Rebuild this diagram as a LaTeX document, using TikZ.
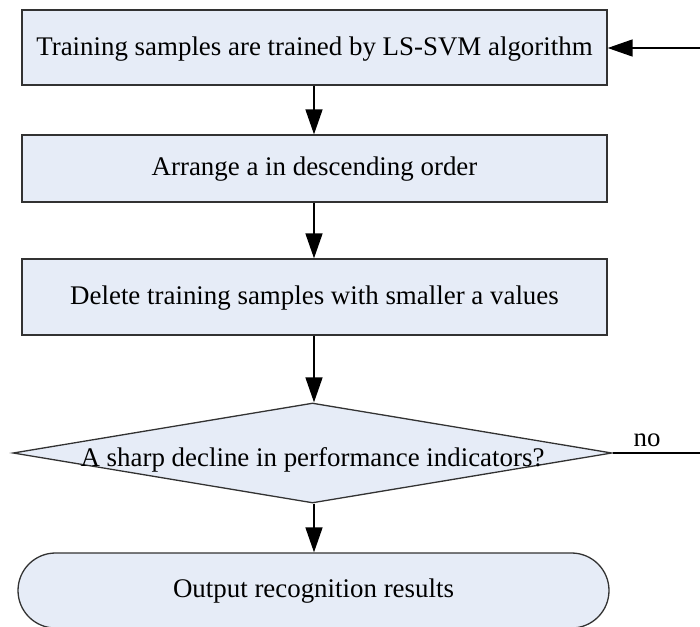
\documentclass[tikz,border=0pt]{standalone}
\usepackage{fontspec}
\setmainfont{Liberation Serif}
\usetikzlibrary{shapes.geometric,shapes.misc,arrows.meta}
\definecolor{boxfill}{RGB}{230,236,247}
\definecolor{boxline}{RGB}{50,50,50}
\begin{document}
\begin{tikzpicture}[x=1pt,y=-1pt,
  procbox/.style={draw=boxline,fill=boxfill,line width=1.3pt,minimum width=585pt,inner sep=0pt},
  txt/.style={font=\fontsize{26.9}{30}\selectfont,inner sep=0pt},
  flow/.style={line width=1.5pt,-{Triangle[length=25pt,width=17pt]}},
  plainline/.style={line width=1.5pt}]
\useasboundingbox (0,0) rectangle (700,626);
\node[procbox,minimum height=75pt] (b1) at (314.5,47.5) {};
\node[txt] (t1) at (314.5,49) {Training samples are trained by LS-SVM algorithm};
\node[procbox,minimum height=67pt] (b2) at (314.5,168.5) {};
\node[txt] (t2) at (314.5,169) {Arrange a in descending order};
\node[procbox,minimum height=76pt] (b3) at (314.5,297) {};
\node[txt] (t3) at (314.5,298) {Delete training samples with smaller a values};
\node[draw=boxline,fill=boxfill,line width=1.3pt,diamond,inner sep=0pt,minimum width=599pt,minimum height=100pt] (d) at (312.5,453) {};
\node[txt] (t4) at (312.5,460) {A sharp decline in performance indicators?};
\node[draw=boxline,fill=boxfill,line width=1.3pt,rounded rectangle,inner sep=0pt,minimum width=591pt,minimum height=75pt] (e) at (313.5,590.5) {};
\node[txt] (t5) at (313.5,591) {Output recognition results};
\coordinate (inR) at (700,48);
\coordinate (noR) at (700,453);
\node[txt,anchor=south] (no) at (647,447) {no};
\draw[flow] (inR) -- (b1.east |- inR);
\draw[flow] (b1.south -| 314,0) -- (b2.north -| 314,0);
\draw[flow] (b2.south -| 314,0) -- (b3.north -| 314,0);
\draw[flow] (b3.south -| 314,0) -- (d.north -| 314,0);
\draw[flow] (d.south -| 314,0) -- (e.north -| 314,0);
\draw[plainline] (d.east) -- (noR);
\end{tikzpicture}
\end{document}
